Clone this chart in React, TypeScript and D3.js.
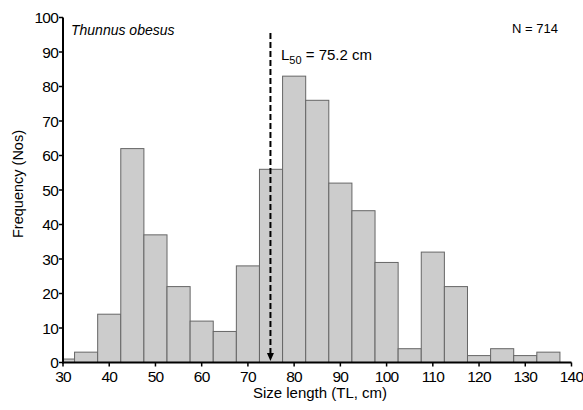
import React from "react";
import * as d3 from "d3";

const binCenters = [30, 35, 40, 45, 50, 55, 60, 65, 70, 75, 80, 85, 90, 95, 100, 105, 110, 115, 120, 125, 130, 135];
const counts = [1, 3, 14, 62, 37, 22, 12, 9, 28, 56, 83, 76, 52, 44, 29, 4, 32, 22, 2, 4, 2, 3];
const xTicks = [30, 40, 50, 60, 70, 80, 90, 100, 110, 120, 130, 140];
const yTicks = [0, 10, 20, 30, 40, 50, 60, 70, 80, 90, 100];
const l50 = 75.2;
const binWidth = 5;

export default function App() {
  const W = 583, H = 410;
  const left = 63, right = 571.5, top = 17.5, bottom = 362.5;
  const x = d3.scaleLinear().domain([30, 140]).range([left, right]);
  const y = d3.scaleLinear().domain([0, 100]).range([bottom, top]);
  const font = "Liberation Sans, Arial, sans-serif";
  const lx = x(l50) - 1.5;
  return (
    <svg width={W} height={H} style={{ position: "absolute", left: 0, top: 0 }} fontFamily={font}>
      <rect width={W} height={H} fill="#fff" />
      {binCenters.map((c, i) => {
        const x0 = Math.max(30, c - binWidth / 2);
        const x1 = c + binWidth / 2;
        return (
          <rect key={i} x={x(x0)} y={y(counts[i])} width={x(x1) - x(x0)} height={y(0) - y(counts[i])}
            fill="#cccccc" stroke="#666666" strokeWidth={1} />
        );
      })}
      {/* dashed L50 line */}
      <line x1={lx} x2={lx} y1={33} y2={355} stroke="#000" strokeWidth={2} strokeDasharray="6,3" />
      <path d={`M${lx - 3.5},${353} L${lx + 3.5},${353} L${lx},${361} Z`} fill="#000" />
      {/* axes */}
      <line x1={left} x2={left} y1={top} y2={bottom + 1} stroke="#000" strokeWidth={2} />
      <line x1={left - 1} x2={right} y1={bottom} y2={bottom} stroke="#000" strokeWidth={2} />
      {yTicks.map((t) => (
        <g key={t}>
          <line x1={left - 4} x2={left} y1={y(t)} y2={y(t)} stroke="#000" strokeWidth={1.5} />
          <text x={left - 5} y={y(t)} dy="0.36em" textAnchor="end" fontSize={15.5} fill="#000" letterSpacing={-0.8}>{t}</text>
        </g>
      ))}
      {xTicks.map((t) => (
        <g key={t}>
          <line x1={x(t)} x2={x(t)} y1={bottom} y2={bottom + 4} stroke="#000" strokeWidth={1.5} />
          <text x={x(t)} y={bottom + 19} textAnchor="middle" fontSize={15.5} fill="#000" letterSpacing={-0.8}>{t}</text>
        </g>
      ))}
      <text x={320} y={398} textAnchor="middle" fontSize={15} fill="#000">Size length (TL, cm)</text>
      <text transform={`translate(22.5,184) rotate(-90)`} textAnchor="middle" fontSize={14.5} fill="#000">Frequency (Nos)</text>
      <text x={71} y={35} fontSize={14} fontStyle="italic" fill="#000">Thunnus obesus</text>
      <text x={512} y={33} fontSize={13} fill="#000">N = 714</text>
      <text x={281} y={60} fontSize={15} fill="#000">
        L<tspan fontSize={11} dy={4}>50</tspan><tspan dy={-4}> = 75.2 cm</tspan>
      </text>
    </svg>
  );
}
